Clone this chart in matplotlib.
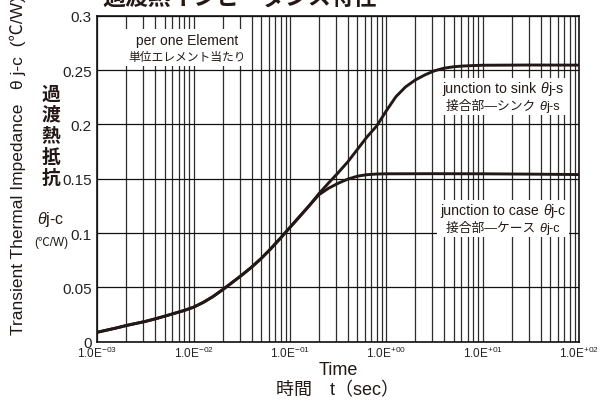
import numpy as np
import matplotlib
matplotlib.use("Agg")
import matplotlib.pyplot as plt
from matplotlib.ticker import LogLocator, FixedLocator, FuncFormatter, NullFormatter
from matplotlib.offsetbox import TextArea, HPacker, VPacker, AnnotationBbox

plt.rcParams["font.family"] = ["Liberation Sans", "Noto Sans CJK JP", "DejaVu Sans"]
plt.rcParams["mathtext.fontset"] = "custom"
plt.rcParams["mathtext.rm"] = "Liberation Sans"
plt.rcParams["mathtext.it"] = "Liberation Sans:italic"

# ---- data: log10(time [s]) and transient thermal impedance [degC/W] ----
shared_log_t = [-3.0, -2.9, -2.8, -2.7, -2.6, -2.5, -2.4, -2.3, -2.2, -2.1,
                -2.0, -1.9, -1.8, -1.7, -1.6, -1.5, -1.4, -1.3, -1.2, -1.1,
                -1.0, -0.9, -0.8]
shared_z = [0.0087, 0.0107, 0.0127, 0.0149, 0.0168, 0.0187, 0.0210, 0.0235,
            0.0261, 0.0287, 0.0318, 0.0362, 0.0415, 0.0478, 0.0545, 0.0613,
            0.0685, 0.0765, 0.0855, 0.0952, 0.1052, 0.1152, 0.1252]

sink_log_t = [-0.7, -0.6, -0.5, -0.4, -0.3, -0.2, -0.1, 0.0, 0.1, 0.2, 0.3,
              0.4, 0.5, 0.6, 0.7, 0.8, 0.9, 1.0, 1.5, 2.0]
sink_z = [0.1362, 0.1460, 0.1555, 0.1655, 0.1770, 0.1885, 0.1985, 0.2125,
          0.2255, 0.2345, 0.2408, 0.2455, 0.2493, 0.2517, 0.2530, 0.2537,
          0.2541, 0.2544, 0.2546, 0.2545]

case_log_t = [-0.7, -0.6, -0.5, -0.4, -0.3, -0.2, -0.1, 0.0, 0.5, 1.0, 1.5, 2.0]
case_z = [0.1352, 0.1412, 0.1458, 0.1496, 0.1523, 0.1537, 0.1543, 0.1545,
          0.1546, 0.1545, 0.1542, 0.1538]

y_ticks = [0, 0.05, 0.1, 0.15, 0.2, 0.25, 0.3]
y_tick_labels = ["0", "0.05", "0.1", "0.15", "0.2", "0.25", "0.3"]
x_tick_exps = ["-03", "-02", "-01", "+00", "+01", "+02"]

ink = "#231815"

fig = plt.figure(figsize=(6.11, 4.06), dpi=100)
ax = fig.add_axes([0.1593, 0.1559, 0.7883, 0.8030])

t_sink = 10 ** np.array(shared_log_t + sink_log_t)
z_sink = np.array(shared_z + sink_z)
t_case = 10 ** np.array(shared_log_t + case_log_t)
z_case = np.array(shared_z + case_z)

ax.plot(t_case, z_case, color=ink, lw=2.1, zorder=5, solid_capstyle="butt")
ax.plot(t_sink, z_sink, color=ink, lw=2.1, zorder=5, solid_capstyle="butt")

ax.set_xscale("log")
ax.set_xlim(1e-3, 1e2)
ax.set_ylim(0, 0.3)

ax.xaxis.set_major_locator(LogLocator(base=10, numticks=10))
ax.xaxis.set_minor_locator(LogLocator(base=10, subs=np.arange(2, 10), numticks=100))
ax.xaxis.set_minor_formatter(NullFormatter())
ax.xaxis.set_major_formatter(FuncFormatter(
    lambda v, pos: r"$\mathregular{1.0E^{%s}}$" % x_tick_exps[int(round(np.log10(v))) + 3]
    if -3 <= round(np.log10(v)) <= 2 else ""))

ax.yaxis.set_major_locator(FixedLocator(y_ticks))
ax.set_yticklabels(y_tick_labels)

ax.grid(True, which="both", axis="x", color="#2c2c2c", lw=0.9)
ax.grid(True, which="major", axis="y", color="#111111", lw=0.9)
ax.set_axisbelow(True)

ax.tick_params(axis="both", which="both", length=0)
ax.tick_params(axis="x", labelsize=8.5, pad=2, colors="#222222")
ax.tick_params(axis="y", labelsize=11, pad=4, colors="#222222")
for s in ax.spines.values():
    s.set_color("#111111")
    s.set_linewidth(1.2)


def label_box(lines, xy):
    rows = []
    for parts in lines:
        areas = [TextArea(txt, textprops=props) for txt, props in parts]
        rows.append(HPacker(children=areas, align="baseline", pad=0, sep=0))
    box = VPacker(children=rows, align="center", pad=0, sep=3)
    ab = AnnotationBbox(box, xy, xycoords="axes fraction", frameon=True,
                        pad=0.25, zorder=3,
                        bboxprops=dict(facecolor="white", edgecolor="none"))
    ax.add_artist(ab)


en = dict(fontsize=10.2, color=ink)
en_it = dict(fontsize=10.2, color=ink, style="italic")
jp = dict(fontsize=9.2, color=ink)
jp_it = dict(fontsize=9.2, color=ink, style="italic")

label_box([[("per one Element", dict(fontsize=10, color=ink))],
           [("単位エレメント当たり", dict(fontsize=8.5, color=ink))]],
          (0.186, 0.902))
label_box([[("junction to sink ", en), ("θ", en_it), ("j-s", en)],
           [("接合部—シンク ", jp), ("θ", jp_it), ("j-s", jp)]],
          (0.842, 0.752))
label_box([[("junction to case ", en), ("θ", en_it), ("j-c", en)],
           [("接合部—ケース ", jp), ("θ", jp_it), ("j-c", jp)]],
          (0.842, 0.378))

W, H = 611.0, 406.0

# title (runs off the top edge)
fig.text(239.5 / W, 1 - 4.5 / H, "過渡熱インピーダンス特性", fontsize=16.5,
         fontweight="bold", ha="center", va="baseline", color=ink)

# y-axis captions
fig.text(18 / W, 1 - 335 / H, "Transient Thermal Impedance   θ j-c  (℃/W)",
         rotation=90, ha="center", va="bottom", fontsize=12.5, color=ink)
for i, ch in enumerate("過渡熱抵抗"):
    fig.text(51 / W, 1 - (95 + 20.9 * i) / H, ch, fontsize=13.5,
             fontweight="bold", ha="center", va="center", color=ink)
fig.text(51 / W, 1 - 220 / H, r"$\theta$j-c", fontsize=11.5, ha="center",
         va="center", color=ink)
fig.text(51 / W, 1 - 243 / H, "(℃/W)", fontsize=8.5, ha="center",
         va="center", color=ink)

# x-axis captions
fig.text(338 / W, 1 - 370.5 / H, "Time", fontsize=13, ha="center",
         va="center", color=ink)
fig.text(338 / W, 1 - 391 / H, "時間　t（sec）", fontsize=13, ha="center",
         va="center", color=ink)

fig.savefig("out.png", dpi=100)
